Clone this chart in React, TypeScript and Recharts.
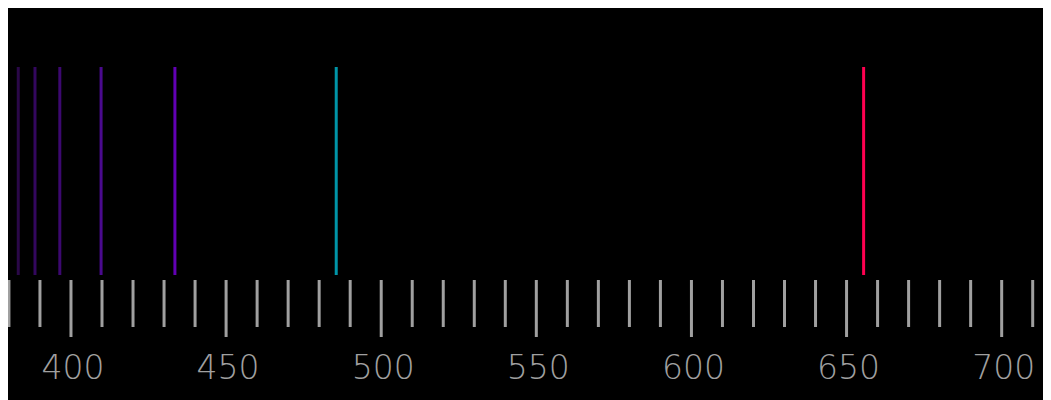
import React from 'react';
import { ComposedChart, Scatter, XAxis, YAxis, ReferenceLine } from 'recharts';

// emission lines (nm) and their colours
const lineWavelengths = [383.0, 388.4, 396.4, 409.7, 433.5, 485.5, 655.5];
const lineColors = ['#2a0848', '#33075e', '#3c0870', '#4a0a8e', '#6200b4', '#0095a8', '#ff0050'];

const tickValues = [
  380, 390, 400, 410, 420, 430, 440, 450, 460, 470, 480, 490, 500, 510, 520, 530, 540,
  550, 560, 570, 580, 590, 600, 610, 620, 630, 640, 650, 660, 670, 680, 690, 700, 710,
];
const labelValues = [400, 450, 500, 550, 600, 650, 700];

const lines = lineWavelengths.map((w, i) => ({ wl: w, y: 0.5, color: lineColors[i] }));

const SpectrumTick = (props: any) => {
  const { x, y, payload } = props;
  const v = payload.value;
  const major = v % 50 === 0;
  return (
    <g>
      <line x1={x} x2={x} y1={y + 5} y2={major ? y + 62 : y + 52} stroke="#a0a0a0" strokeWidth={3} />
      {labelValues.includes(v) && (
        <text
          x={x + 2}
          y={y + 104}
          textAnchor="middle"
          fill="#a0a0a0"
          fontSize={33}
          fontWeight={200}
          fontFamily="DejaVu Sans"
        >
          {v}
        </text>
      )}
    </g>
  );
};

const App = () => {
  return (
    <div style={{ width: 1043, height: 392, background: '#000' }}>
      <ComposedChart width={1043} height={392} data={lines} margin={{ top: 59, right: 0, bottom: 0, left: 0 }}>
        <XAxis
          dataKey="wl"
          type="number"
          domain={[379.7, 715.9]}
          ticks={tickValues}
          interval={0}
          allowDataOverflow
          height={125}
          axisLine={false}
          tickLine={false}
          tickSize={0}
          tickMargin={0}
          tick={<SpectrumTick />}
        />
        <YAxis type="number" domain={[0, 1]} hide />
        <Scatter dataKey="y" fill="none" isAnimationActive={false} shape={() => <g />} />
        {lines.map((l) => (
          <ReferenceLine key={l.wl} x={l.wl} stroke={l.color} strokeWidth={3} ifOverflow="visible" />
        ))}
      </ComposedChart>
    </div>
  );
};

export default App;
